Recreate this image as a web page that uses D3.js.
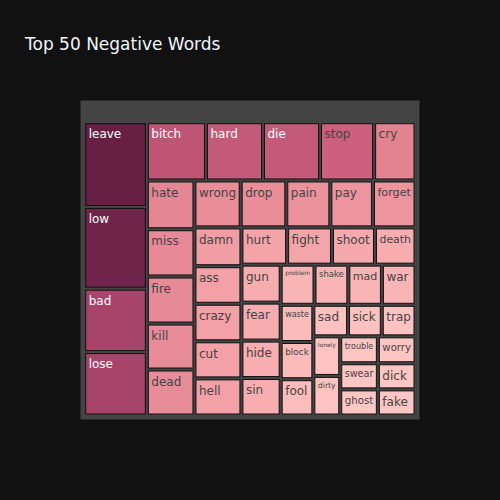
<!DOCTYPE html>
<html>
<head>
<meta charset="utf-8">
<script src="https://cdn.jsdelivr.net/npm/d3@7"></script>
<style>
  body { margin: 0; background: #111; }
  svg { display: block; }
</style>
</head>
<body>
<svg id="chart" width="500" height="500"></svg>
<script>
// word counts
const words = ['leave', 'low', 'bad', 'lose', 'bitch', 'hard', 'die', 'stop', 'cry', 'hate',
  'miss', 'fire', 'kill', 'dead', 'wrong', 'drop', 'pain', 'pay', 'forget', 'damn',
  'ass', 'crazy', 'cut', 'hell', 'hurt', 'fight', 'shoot', 'death', 'gun', 'fear',
  'hide', 'sin', 'problem', 'shake', 'mad', 'war', 'waste', 'block', 'fool', 'sad',
  'sick', 'trap', 'lonely', 'dirty', 'trouble', 'worry', 'swear', 'ghost', 'dick', 'fake'];
const counts = [52.4, 50.5, 39.2, 39.2, 34.0, 32.8, 32.8, 31.1, 23.8, 22.9,
  22.2, 22.1, 21.6, 21.6, 21.4, 21.1, 20.4, 19.7, 19.7, 18.0,
  17.4, 17.4, 17.2, 17.2, 16.8, 16.5, 15.8, 14.9, 14.7, 14.7,
  14.5, 14.5, 13.4, 13.4, 13.3, 13.3, 12.0, 12.0, 11.7, 10.8,
  10.5, 10.5, 10.5, 10.5, 10.0, 10.0, 9.7, 9.7, 9.7, 9.7];

// plotly "Burg" colorscale
const burg = ['#ffc6c4', '#f4a3a8', '#e38191', '#cc607d', '#ad466c', '#8b3058', '#672044'];

const W = 500, H = 500;
const M = { l: 80, r: 80, t: 100, b: 80 };
const FONT = '"DejaVu Sans", Verdana, sans-serif';

const svg = d3.select('#chart');
svg.append('rect').attr('width', W).attr('height', H).attr('fill', '#111');

svg.append('text')
  .attr('x', 25).attr('y', 49.5)
  .attr('font-family', FONT).attr('font-size', 17)
  .attr('fill', '#f2f5fa')
  .text('Top 50 Negative Words');

const cmin = d3.min(counts), cmax = d3.max(counts);
const color = d3.scaleLinear()
  .domain(burg.map((c, i) => cmin + i * (cmax - cmin) / (burg.length - 1)))
  .range(burg)
  .interpolate(d3.interpolateRgb);

const root = d3.hierarchy({ name: '', children: words.map((w, i) => ({ name: w, value: counts[i] })) })
  .sum(d => d.value || 0)
  .sort((a, b) => b.value - a.value);

const pw = W - M.l - M.r, ph = H - M.t - M.b;
d3.treemap()
  .tile(d3.treemapSquarify.ratio(1))
  .size([pw, ph])
  .paddingTop(23.7).paddingLeft(5.7).paddingRight(6).paddingBottom(6)
  .paddingInner(3)(root);

const g = svg.append('g').attr('transform', `translate(${M.l},${M.t})`);

// root node box (header strip on top)
g.append('rect')
  .attr('x', root.x0).attr('y', root.y0)
  .attr('width', root.x1 - root.x0).attr('height', root.y1 - root.y0)
  .attr('fill', '#444').attr('stroke', '#111').attr('stroke-width', 1);

const leaf = g.selectAll('g.leaf').data(root.leaves()).join('g').attr('class', 'leaf');

leaf.append('rect')
  .attr('x', d => d.x0).attr('y', d => d.y0)
  .attr('width', d => d.x1 - d.x0).attr('height', d => d.y1 - d.y0)
  .attr('fill', d => color(d.value))
  .attr('stroke', '#111').attr('stroke-width', 1);

// tinycolor-style contrast: dark tiles get white text
function textColor(c) {
  const r = d3.rgb(c);
  const br = (r.r * 299 + r.g * 587 + r.b * 114) / 1000;
  return br < 128 ? '#fff' : '#444';
}

leaf.append('text')
  .attr('font-family', FONT)
  .attr('font-size', 12)
  .attr('fill', d => textColor(color(d.value)))
  .text(d => d.data.name)
  .each(function(d) {
    const len = this.getComputedTextLength();
    const avail = (d.x1 - d.x0) - 6;
    const fs = 12 * Math.min(1, avail / len);
    d3.select(this)
      .attr('font-size', fs)
      .attr('x', d.x0 + 3)
      .attr('y', d.y0 + 3 + 0.98 * fs);
  });
</script>
</body>
</html>
